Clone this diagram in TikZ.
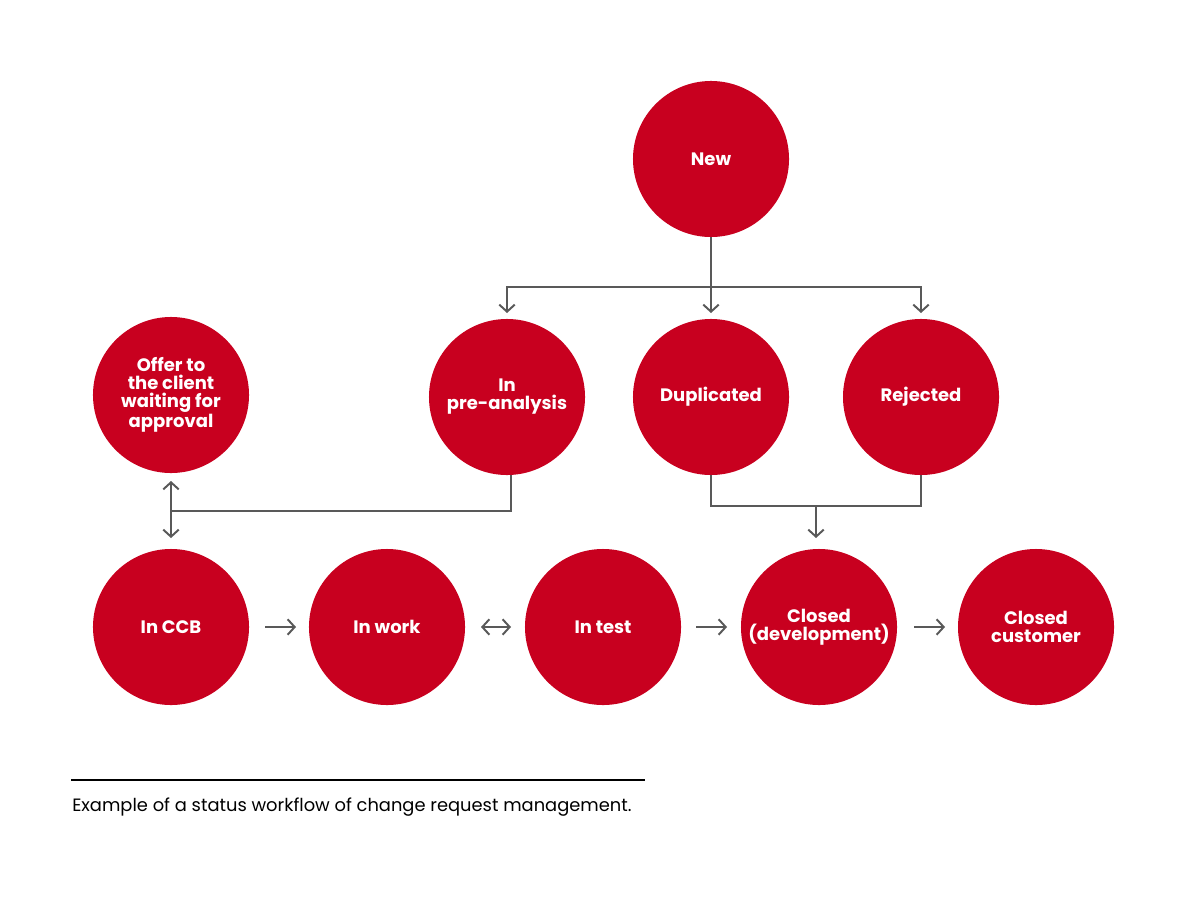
\documentclass[tikz,border=0pt]{standalone}
\usepackage{fontspec}
\setmainfont{Poppins}
\usetikzlibrary{arrows.meta}
\definecolor{crimson}{HTML}{C8001F}
\definecolor{conn}{HTML}{595959}
\tikzset{
  state/.style={circle, fill=crimson, text=white, minimum size=3.9cm, inner sep=0pt,
    align=center, font=\fontsize{12.8}{12.8}\selectfont\bfseries},
  link/.style={draw=conn, line width=1.4pt},
  tip/.style={-{Straight Barb[length=5pt,width=11pt,line width=1.4pt]}},
  tips/.style={{Straight Barb[length=5pt,width=11pt,line width=1.4pt]}-{Straight Barb[length=5pt,width=11pt,line width=1.4pt]}},
}
\begin{document}
\begin{tikzpicture}[x=0.025cm,y=-0.025cm]
\useasboundingbox (0,0) rectangle (1200,900);
\node[state] (new) at (711,159) {New};
\node[state] (pre) at (507,397) {In\\pre-analysis};
\node[state] (dup) at (711,397) {Duplicated};
\node[state] (rej) at (921,397) {Rejected};
\node[state] (offer) at (171,395) {Offer to\\the client\\waiting for\\approval};
\node[state] (ccb) at (171,627) {In CCB};
\node[state] (work) at (387,627) {In work};
\node[state] (test) at (603,627) {In test};
\node[state] (cdev) at (819,627) {Closed\\(development)};
\node[state] (ccust) at (1036,627) {Closed\\customer};

% New -> three
\coordinate (nb) at (711,287);
\coordinate (ta) at (507,313);
\coordinate (tb) at (711,313);
\coordinate (tc) at (921,313);
\draw[link] (new.south) -- (nb);
\draw[link,tip] (nb) -| (ta);
\draw[link,tip] (nb) -| (tc);
\draw[link,tip] (nb) -- (tb);

% pre-analysis -> CCB/offer
\coordinate (pb) at (511,475);
\coordinate (pj) at (171,511);
\coordinate (ot) at (171,481);
\coordinate (cb) at (171,538);
\draw[link] (pb) |- (pj);
\draw[link,tips] (ot) -- (cb);

% duplicated / rejected -> closed dev
\coordinate (cj) at (816,506);
\coordinate (ce) at (816,538);
\draw[link] (dup.south) |- (cj);
\draw[link] (rej.south) |- (cj);
\draw[link,tip] (cj) -- (ce);

% row arrows
\coordinate (a1) at (265,627); \coordinate (a2) at (296,627);
\coordinate (b1) at (481,627); \coordinate (b2) at (511,627);
\coordinate (c1) at (696,627); \coordinate (c2) at (727,627);
\coordinate (d1) at (914,627); \coordinate (d2) at (945,627);
\draw[link,tip] (a1) -- (a2);
\draw[link,tips] (b1) -- (b2);
\draw[link,tip] (c1) -- (c2);
\draw[link,tip] (d1) -- (d2);

% caption
\coordinate (cl) at (71,780);
\coordinate (cr) at (645,780);
\draw[line width=0.8pt, black] (cl) -- (cr);
\node[anchor=base west, inner sep=0pt, font=\fontsize{12.7}{14}\selectfont] (cap) at (72,811) {Example of a status workflow of change request management.};
\end{tikzpicture}
\end{document}
